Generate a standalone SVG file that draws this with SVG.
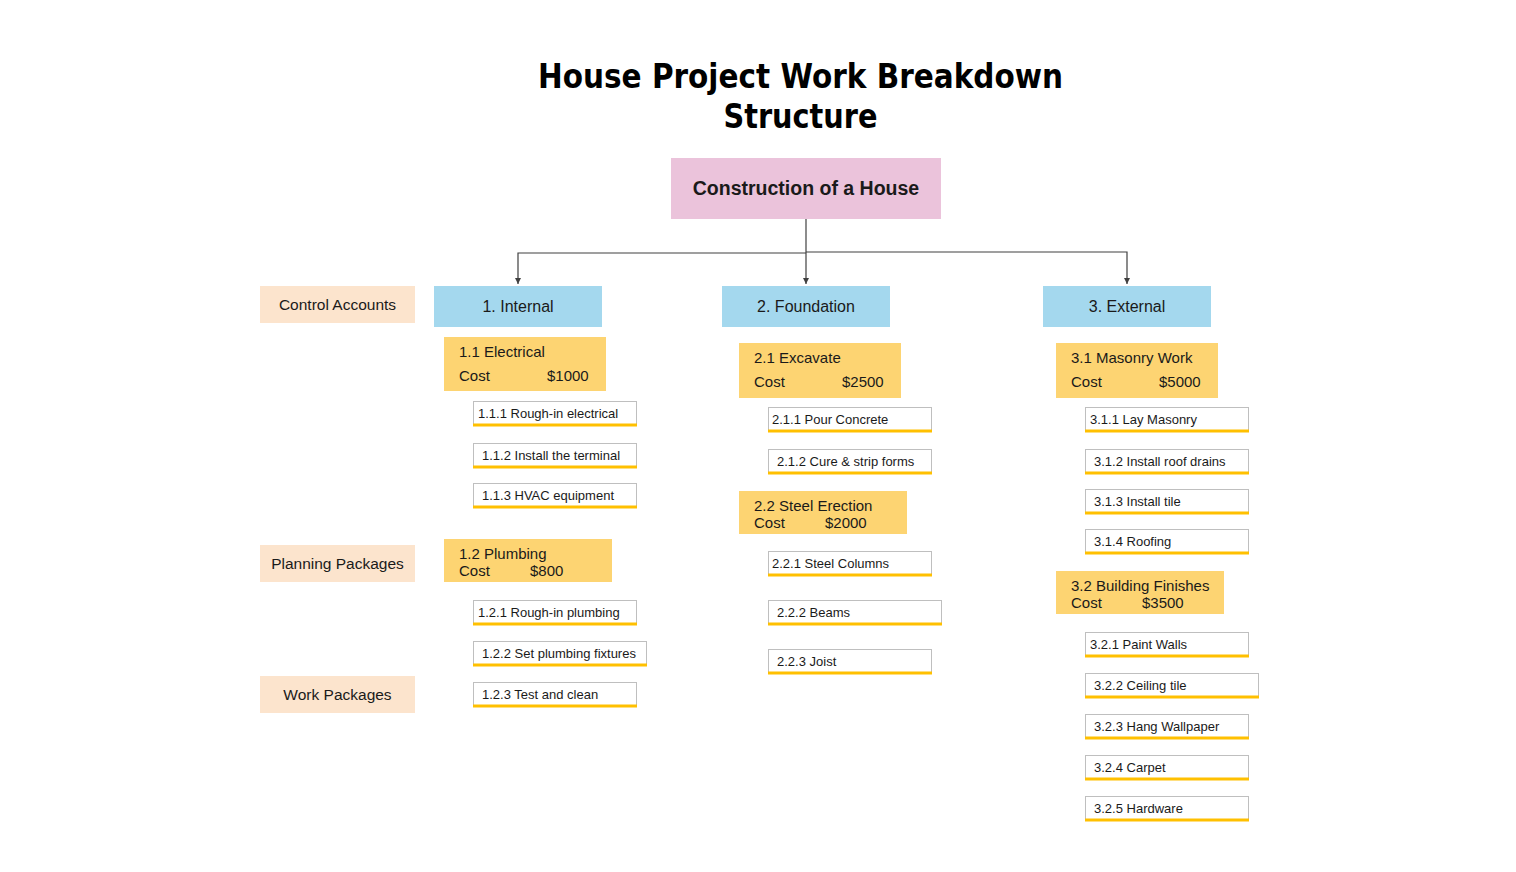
<svg xmlns="http://www.w3.org/2000/svg" width="1516" height="872" viewBox="0 0 1516 872">
<style>
text{font-family:"Liberation Sans",Arial,sans-serif;fill:#1a1a1a}
.title{font-family:"DejaVu Sans",Verdana,sans-serif;font-size:34px;font-weight:bold;fill:#000;text-anchor:middle}
.root{fill:#EBC3DB}
.roott{font-size:19.5px;font-weight:bold;text-anchor:middle}
.ca{fill:#A4D8EE}
.cat{font-size:16px;text-anchor:middle}
.lab{fill:#FCE4CD}
.labt{font-size:15.5px;text-anchor:middle}
.pp{fill:#FDD472}
.ppt{font-size:15px}
.wp{fill:#fff;stroke:#BFBFBF;stroke-width:1}
.wpb{stroke:#FFC000;stroke-width:3}
.wpt{font-size:13px}
.conn{fill:none;stroke:#404040;stroke-width:1.2}
</style>
<defs>
<marker id="arr" markerUnits="userSpaceOnUse" markerWidth="7" markerHeight="7" refX="6" refY="3" orient="auto">
<path d="M0,0 L6,3 L0,6 z" fill="#404040"/>
</marker>
</defs>
<rect width="1516" height="872" fill="#fff"/>
<g id="title">
<text class="title" x="800.5" y="88" textLength="525" lengthAdjust="spacingAndGlyphs">House Project Work Breakdown</text>
<text class="title" x="800.5" y="128" textLength="154" lengthAdjust="spacingAndGlyphs">Structure</text>
</g>
<g id="connectors">
<path class="conn" d="M806,219 V284" marker-end="url(#arr)"/>
<path class="conn" d="M806,253 H518 V284" marker-end="url(#arr)"/>
<path class="conn" d="M806,252 H1127 V284" marker-end="url(#arr)"/>
</g>
<g id="root"><rect class="root" x="671" y="158" width="270" height="61"/><text class="roott" x="806" y="195">Construction of a House</text></g>
<g id="lab-ca"><rect class="lab" x="260" y="286" width="155" height="37"/><text class="labt" x="337.5" y="310">Control Accounts</text></g>
<g id="lab-pp"><rect class="lab" x="260" y="545" width="155" height="37"/><text class="labt" x="337.5" y="569">Planning Packages</text></g>
<g id="lab-wp"><rect class="lab" x="260" y="676" width="155" height="37"/><text class="labt" x="337.5" y="700">Work Packages</text></g>
<g id="n1"><rect class="ca" x="434" y="286" width="168" height="41"/><text class="cat" x="518" y="312">1. Internal</text></g>
<g id="n2"><rect class="ca" x="722" y="286" width="168" height="41"/><text class="cat" x="806" y="312">2. Foundation</text></g>
<g id="n3"><rect class="ca" x="1043" y="286" width="168" height="41"/><text class="cat" x="1127" y="312">3. External</text></g>
<g id="n1-1"><rect class="pp" x="444" y="337" width="162" height="54"/><text class="ppt" x="459" y="357">1.1 Electrical</text><text class="ppt" x="459" y="381">Cost</text><text class="ppt" x="547" y="381">$1000</text></g>
<g id="n2-1"><rect class="pp" x="739" y="343" width="162" height="55"/><text class="ppt" x="754" y="363">2.1 Excavate</text><text class="ppt" x="754" y="387">Cost</text><text class="ppt" x="842" y="387">$2500</text></g>
<g id="n3-1"><rect class="pp" x="1056" y="343" width="162" height="55"/><text class="ppt" x="1071" y="363">3.1 Masonry Work</text><text class="ppt" x="1071" y="387">Cost</text><text class="ppt" x="1159" y="387">$5000</text></g>
<g id="n1-2"><rect class="pp" x="444" y="539" width="168" height="43"/><text class="ppt" x="459" y="559">1.2 Plumbing</text><text class="ppt" x="459" y="576">Cost</text><text class="ppt" x="530" y="576">$800</text></g>
<g id="n2-2"><rect class="pp" x="739" y="491" width="168" height="43"/><text class="ppt" x="754" y="511">2.2 Steel Erection</text><text class="ppt" x="754" y="528">Cost</text><text class="ppt" x="825" y="528">$2000</text></g>
<g id="n3-2"><rect class="pp" x="1056" y="571" width="168" height="43"/><text class="ppt" x="1071" y="591">3.2 Building Finishes</text><text class="ppt" x="1071" y="608">Cost</text><text class="ppt" x="1142" y="608">$3500</text></g>
<g id="n1-1-1"><rect class="wp" x="473.5" y="401.5" width="163" height="23"/><line class="wpb" x1="473" y1="425" x2="637" y2="425"/><text class="wpt" x="478" y="418">1.1.1 Rough-in electrical</text></g>
<g id="n1-1-2"><rect class="wp" x="473.5" y="443.5" width="163" height="23"/><line class="wpb" x1="473" y1="467" x2="637" y2="467"/><text class="wpt" x="482" y="460">1.1.2 Install the terminal</text></g>
<g id="n1-1-3"><rect class="wp" x="473.5" y="483.5" width="163" height="23"/><line class="wpb" x1="473" y1="507" x2="637" y2="507"/><text class="wpt" x="482" y="500">1.1.3 HVAC equipment</text></g>
<g id="n1-2-1"><rect class="wp" x="473.5" y="600.5" width="163" height="23"/><line class="wpb" x1="473" y1="624" x2="637" y2="624"/><text class="wpt" x="478" y="617">1.2.1 Rough-in plumbing</text></g>
<g id="n1-2-2"><rect class="wp" x="473.5" y="641.5" width="173" height="23"/><line class="wpb" x1="473" y1="665" x2="647" y2="665"/><text class="wpt" x="482" y="658">1.2.2 Set plumbing fixtures</text></g>
<g id="n1-2-3"><rect class="wp" x="473.5" y="682.5" width="163" height="23"/><line class="wpb" x1="473" y1="706" x2="637" y2="706"/><text class="wpt" x="482" y="699">1.2.3 Test and clean</text></g>
<g id="n2-1-1"><rect class="wp" x="768.5" y="407.5" width="163" height="23"/><line class="wpb" x1="768" y1="431" x2="932" y2="431"/><text class="wpt" x="772" y="424">2.1.1 Pour Concrete</text></g>
<g id="n2-1-2"><rect class="wp" x="768.5" y="449.5" width="163" height="23"/><line class="wpb" x1="768" y1="473" x2="932" y2="473"/><text class="wpt" x="777" y="466">2.1.2 Cure &amp; strip forms</text></g>
<g id="n2-2-1"><rect class="wp" x="768.5" y="551.5" width="163" height="23"/><line class="wpb" x1="768" y1="575" x2="932" y2="575"/><text class="wpt" x="772" y="568">2.2.1 Steel Columns</text></g>
<g id="n2-2-2"><rect class="wp" x="768.5" y="600.5" width="173" height="23"/><line class="wpb" x1="768" y1="624" x2="942" y2="624"/><text class="wpt" x="777" y="617">2.2.2 Beams</text></g>
<g id="n2-2-3"><rect class="wp" x="768.5" y="649.5" width="163" height="23"/><line class="wpb" x1="768" y1="673" x2="932" y2="673"/><text class="wpt" x="777" y="666">2.2.3 Joist</text></g>
<g id="n3-1-1"><rect class="wp" x="1085.5" y="407.5" width="163" height="23"/><line class="wpb" x1="1085" y1="431" x2="1249" y2="431"/><text class="wpt" x="1090" y="424">3.1.1 Lay Masonry</text></g>
<g id="n3-1-2"><rect class="wp" x="1085.5" y="449.5" width="163" height="23"/><line class="wpb" x1="1085" y1="473" x2="1249" y2="473"/><text class="wpt" x="1094" y="466">3.1.2 Install roof drains</text></g>
<g id="n3-1-3"><rect class="wp" x="1085.5" y="489.5" width="163" height="23"/><line class="wpb" x1="1085" y1="513" x2="1249" y2="513"/><text class="wpt" x="1094" y="506">3.1.3 Install tile</text></g>
<g id="n3-1-4"><rect class="wp" x="1085.5" y="529.5" width="163" height="23"/><line class="wpb" x1="1085" y1="553" x2="1249" y2="553"/><text class="wpt" x="1094" y="546">3.1.4 Roofing</text></g>
<g id="n3-2-1"><rect class="wp" x="1085.5" y="632.5" width="163" height="23"/><line class="wpb" x1="1085" y1="656" x2="1249" y2="656"/><text class="wpt" x="1090" y="649">3.2.1 Paint Walls</text></g>
<g id="n3-2-2"><rect class="wp" x="1085.5" y="673.5" width="173" height="23"/><line class="wpb" x1="1085" y1="697" x2="1259" y2="697"/><text class="wpt" x="1094" y="690">3.2.2 Ceiling tile</text></g>
<g id="n3-2-3"><rect class="wp" x="1085.5" y="714.5" width="163" height="23"/><line class="wpb" x1="1085" y1="738" x2="1249" y2="738"/><text class="wpt" x="1094" y="731">3.2.3 Hang Wallpaper</text></g>
<g id="n3-2-4"><rect class="wp" x="1085.5" y="755.5" width="163" height="23"/><line class="wpb" x1="1085" y1="779" x2="1249" y2="779"/><text class="wpt" x="1094" y="772">3.2.4 Carpet</text></g>
<g id="n3-2-5"><rect class="wp" x="1085.5" y="796.5" width="163" height="23"/><line class="wpb" x1="1085" y1="820" x2="1249" y2="820"/><text class="wpt" x="1094" y="813">3.2.5 Hardware</text></g>
</svg>
